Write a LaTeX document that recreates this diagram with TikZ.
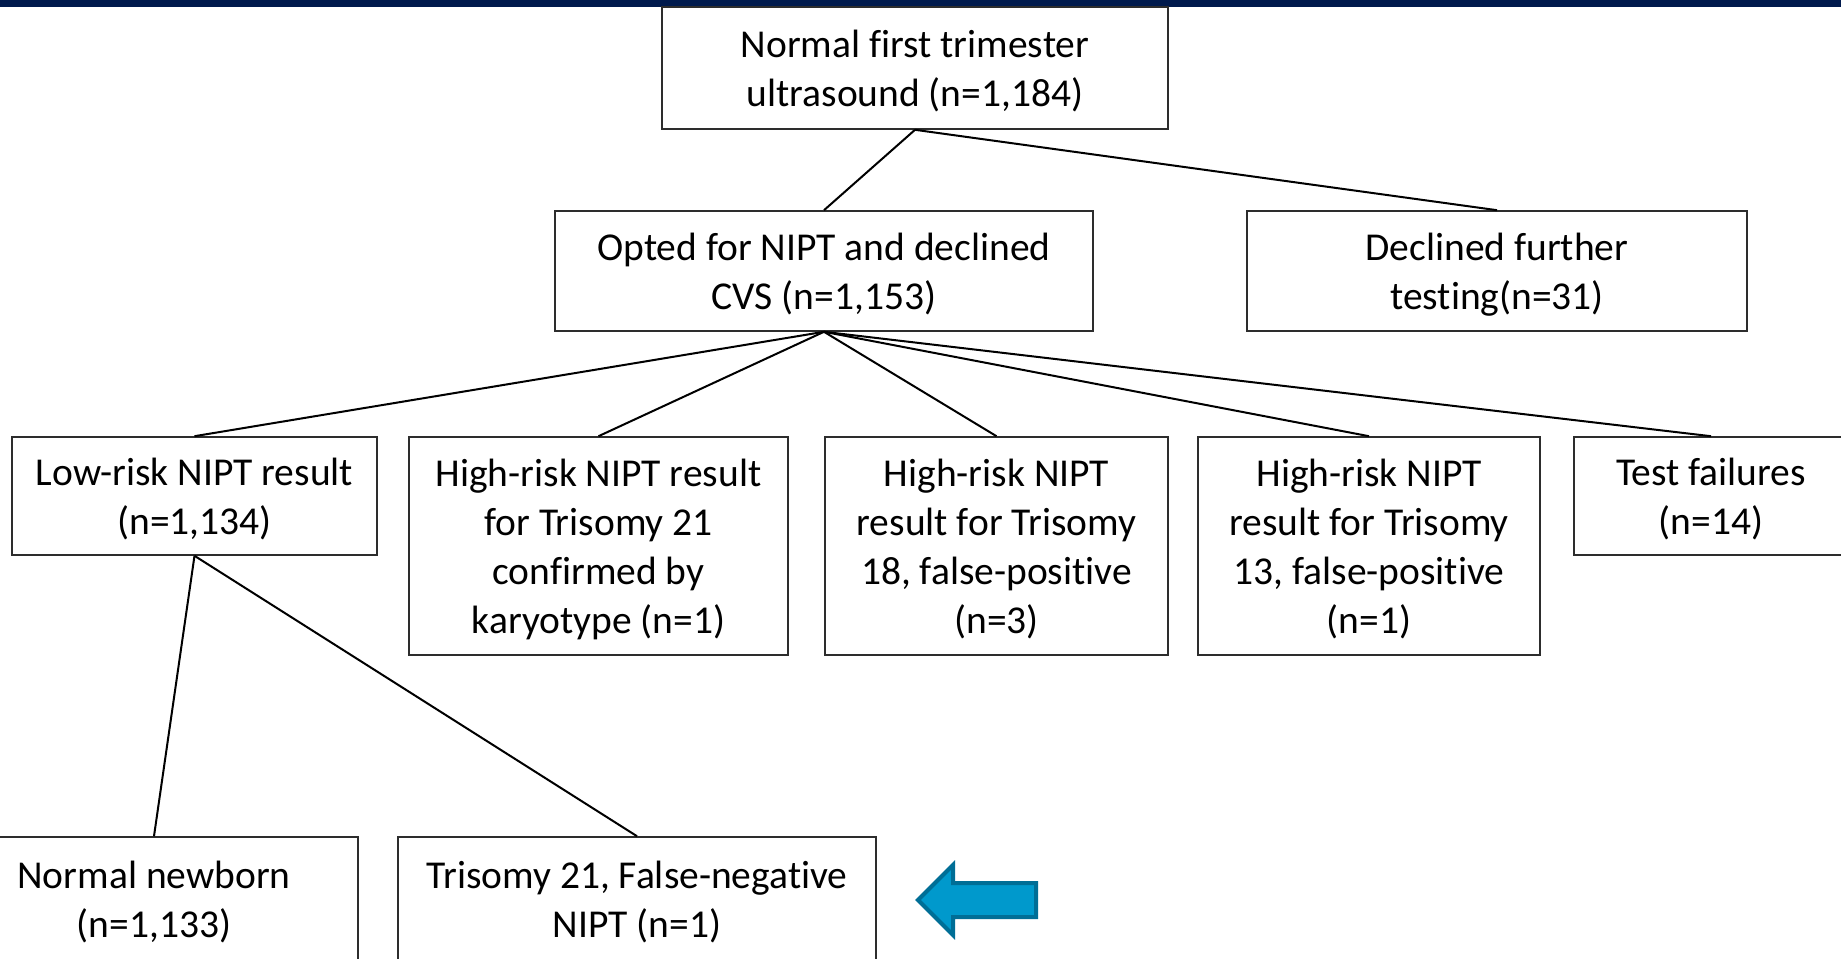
\documentclass[tikz,border=0pt]{standalone}
\usepackage{fontspec}
\setmainfont{Carlito}[RawFeature={-liga;-dlig}]
\definecolor{band}{RGB}{0,26,77}
\definecolor{boxline}{RGB}{45,45,45}
\definecolor{arrowfill}{RGB}{0,153,204}
\definecolor{arrowline}{RGB}{0,110,150}
\begin{document}
\begin{tikzpicture}[x=1pt,y=-1pt,
  box/.style={draw=boxline,line width=1.6pt,fill=white,rectangle,inner sep=0pt},
  boxtext/.style={inner sep=0pt,align=center,yshift=-3.5pt,
    font=\fontsize{39.5}{49}\selectfont},
  link/.style={draw=black,line width=2pt}]
\useasboundingbox (0,0) rectangle (1841,958);
\clip (0,0) rectangle (1841,958);
\fill[white] (0,0) rectangle (1841,958);
\fill[band] (0,0) rectangle (1841,7);

\node[box,minimum width=506pt,minimum height=122pt,label={[boxtext]center:{Normal first trimester\\ultrasound (n=1,184)}}] (top) at (915,68) {};
\node[box,minimum width=538pt,minimum height=120pt,label={[boxtext]center:{Opted for NIPT and declined\\CVS (n=1,153)}}] (opted) at (824,271) {};
\node[box,minimum width=500pt,minimum height=120pt,label={[boxtext]center:{Declined further\\testing(n=31)}}] (declined) at (1497,271) {};
\node[box,minimum width=365pt,minimum height=118pt,label={[boxtext]center:{Low-risk NIPT result\\(n=1,134)}}] (low) at (194.5,496) {};
\node[box,minimum width=379pt,minimum height=218pt,label={[boxtext]center:{High-risk NIPT result\\for Trisomy 21\\confirmed by\\karyotype (n=1)}}] (hr21) at (598.5,546) {};
\node[box,minimum width=343pt,minimum height=218pt,label={[boxtext]center:{High-risk NIPT\\result for Trisomy\\18, false-positive\\(n=3)}}] (hr18) at (996.5,546) {};
\node[box,minimum width=342pt,minimum height=218pt,label={[boxtext]center:{High-risk NIPT\\result for Trisomy\\13, false-positive\\(n=1)}}] (hr13) at (1369,546) {};
\node[box,minimum width=274pt,minimum height=118pt,label={[boxtext]center:{Test failures\\(n=14)}}] (fail) at (1711,496) {};
\node[box,minimum width=408pt,minimum height=124pt,label={[boxtext]center:{Normal newborn\\(n=1,133)}}] (newborn) at (154,899) {};
\node[box,minimum width=478pt,minimum height=124pt,label={[boxtext]center:{Trisomy 21, False-negative\\NIPT (n=1)}}] (fn) at (637,899) {};

\draw[link] (top.south) -- (opted.north);
\draw[link] (top.south) -- (declined.north);
\foreach \t in {low,hr21,hr18,hr13,fail}
  \draw[link] (opted.south) -- (\t.north);
\draw[link] (low.south) -- (newborn.north);
\draw[link] (low.south) -- (fn.north);

\draw[fill=arrowfill,draw=arrowline,line width=4pt,line join=miter]
  (918,900) -- (953,865) -- (953,883) -- (1036,883) -- (1036,917) -- (953,917) -- (953,935) -- cycle;
\end{tikzpicture}
\end{document}
